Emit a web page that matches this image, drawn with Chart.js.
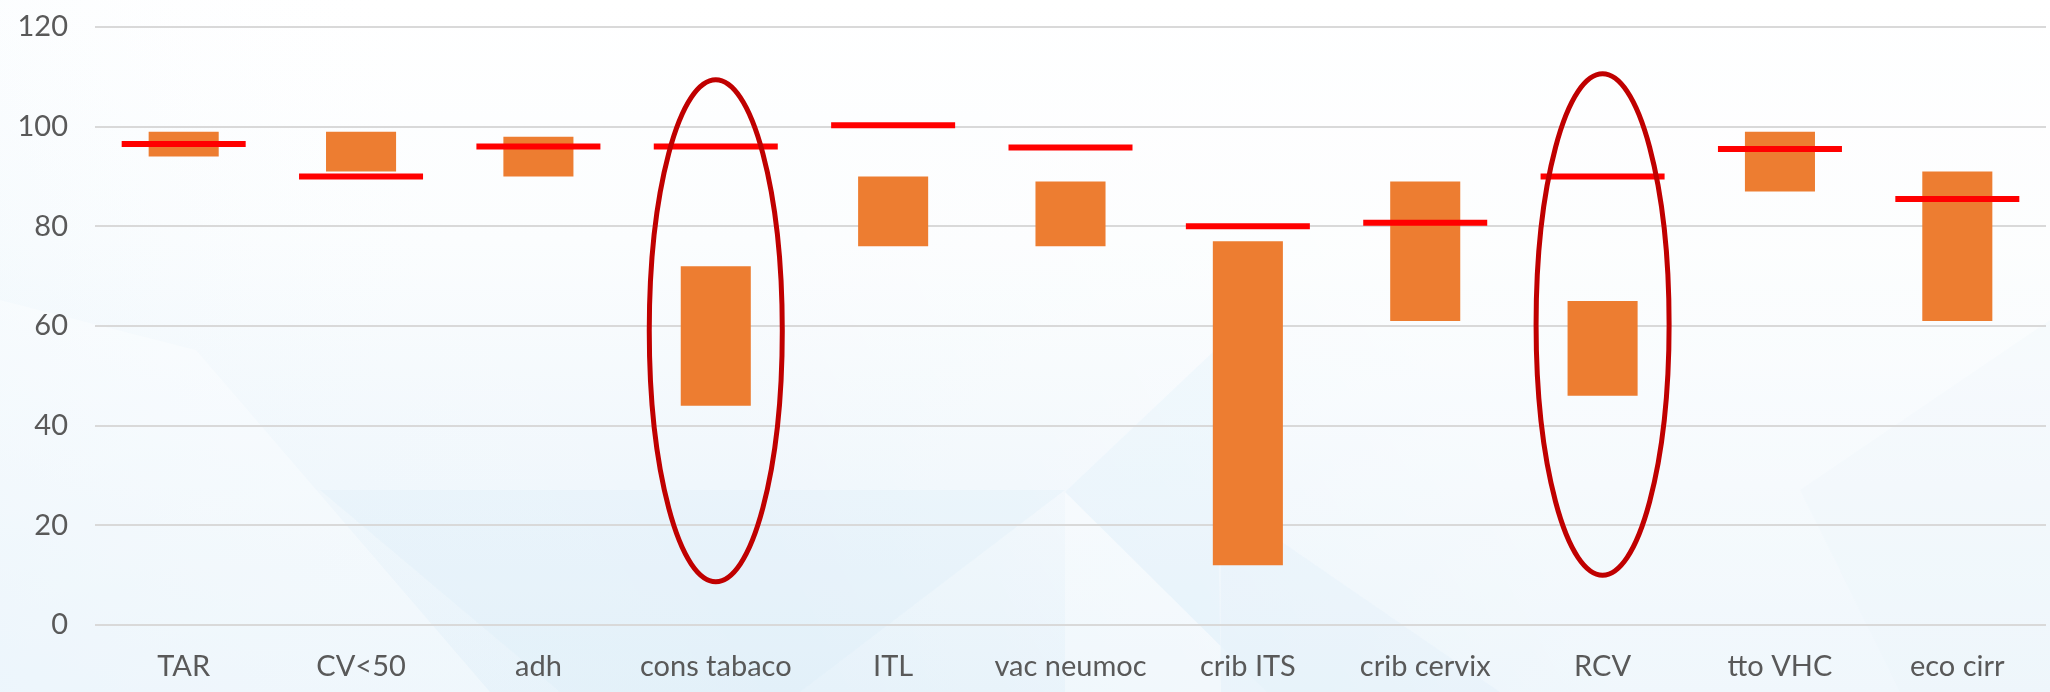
<!DOCTYPE html>
<html>
<head>
<meta charset="utf-8">
<script src="https://cdn.jsdelivr.net/npm/chart.js@4/dist/chart.umd.min.js"></script>
<style>
  html, body { margin: 0; padding: 0; background: #fff; }
  #wrap { width: 2050px; height: 692px; position: relative; }
</style>
</head>
<body>
<div id="wrap"><canvas id="c" width="2050" height="692"></canvas></div>
<script>
// ---- data ----
const categories = ['TAR', 'CV<50', 'adh', 'cons tabaco', 'ITL', 'vac neumoc', 'crib ITS', 'crib cervix', 'RCV', 'tto VHC', 'eco cirr'];
const rangeLow  = [94, 91, 90, 44, 76, 76, 12, 61, 46, 87, 61];
const rangeHigh = [99, 99, 98, 72, 90, 89, 77, 89, 65, 99, 91];
const targets   = [96.5, 90, 96, 96, 100.3, 95.8, 80, 80.7, 90, 95.5, 85.5];
const yTicks    = [0, 20, 40, 60, 80, 100, 120];
// highlighted categories (ellipse spans in value units)
const highlightCats = ['cons tabaco', 'RCV'];
const highlightLow  = [8.7, 10];
const highlightHigh = [109.4, 110.6];

const FONT = 'Lato, "Open Sans", sans-serif';

const bgPlugin = {
  id: 'bg',
  beforeDraw(chart) {
    const ctx = chart.ctx, W = chart.width, H = chart.height;
    ctx.save();
    let g = ctx.createLinearGradient(0, 0, 0, H);
    g.addColorStop(0, '#ffffff');
    g.addColorStop(0.35, '#fbfdfe');
    g.addColorStop(0.7, '#f0f7fc');
    g.addColorStop(1, '#e6f2fa');
    ctx.fillStyle = g;
    ctx.fillRect(0, 0, W, H);
    let g2 = ctx.createLinearGradient(0, H, W * 0.6, 0);
    g2.addColorStop(0, 'rgba(220,238,250,0.35)');
    g2.addColorStop(0.5, 'rgba(255,255,255,0)');
    g2.addColorStop(1, 'rgba(255,255,255,0.4)');
    ctx.fillStyle = g2;
    ctx.fillRect(0, 0, W, H);
    const poly = (pts, col) => {
      ctx.beginPath();
      ctx.moveTo(pts[0][0], pts[0][1]);
      for (let i = 1; i < pts.length; i++) ctx.lineTo(pts[i][0], pts[i][1]);
      ctx.closePath();
      ctx.fillStyle = col;
      ctx.fill();
    };
    poly([[0, 300], [196, 350], [490, 692], [0, 692]], 'rgba(255,255,255,0.35)');
    poly([[320, 490], [1065, 490], [800, 692], [560, 692]], 'rgba(215,236,249,0.25)');
    poly([[1065, 492], [1215, 350], [1221, 692], [1267, 692]], 'rgba(215,236,250,0.22)');
    poly([[1065, 492], [1267, 692], [1065, 692]], 'rgba(255,255,255,0.35)');
    poly([[1221, 500], [1221, 692], [1500, 692]], 'rgba(215,236,250,0.2)');
    poly([[1800, 490], [2050, 320], [2050, 692], [1900, 692]], 'rgba(225,240,251,0.15)');
    ctx.restore();
  }
};

const ellipsePlugin = {
  id: 'ellipses',
  afterDatasetsDraw(chart) {
    const ctx = chart.ctx;
    const xs = chart.scales.x, ys = chart.scales.y;
    const catW = xs.getPixelForValue(1) - xs.getPixelForValue(0);
    ctx.save();
    ctx.strokeStyle = '#C00000';
    ctx.lineWidth = 5;
    highlightCats.forEach((cat, i) => {
      const idx = categories.indexOf(cat);
      const cx = xs.getPixelForValue(idx);
      const yTop = ys.getPixelForValue(highlightHigh[i]);
      const yBot = ys.getPixelForValue(highlightLow[i]);
      ctx.beginPath();
      ctx.ellipse(cx, (yTop + yBot) / 2, catW * 0.375, (yBot - yTop) / 2, 0, 0, Math.PI * 2);
      ctx.stroke();
    });
    ctx.restore();
  }
};

new Chart(document.getElementById('c'), {
  type: 'bar',
  data: {
    labels: categories,
    datasets: [
      {
        type: 'line',
        label: 'objetivo',
        data: targets,
        showLine: false,
        pointStyle: 'line',
        pointRadius: 62,
        pointHoverRadius: 62,
        pointBorderWidth: 6,
        pointHoverBorderWidth: 6,
        borderColor: '#FF0000',
        backgroundColor: '#FF0000',
        order: 0
      },
      {
        type: 'bar',
        label: 'rango',
        data: rangeLow.map((v, i) => [v, rangeHigh[i]]),
        backgroundColor: '#ED7D31',
        borderWidth: 0,
        borderSkipped: false,
        categoryPercentage: 1,
        barPercentage: 0.395,
        grouped: false,
        order: 1
      }
    ]
  },
  options: {
    responsive: false,
    animation: false,
    devicePixelRatio: 1,
    layout: { autoPadding: false, padding: { top: 27, right: 4, left: 0, bottom: 0 } },
    plugins: { legend: { display: false }, tooltip: { enabled: false } },
    scales: {
      x: {
        offset: true,
        grid: { display: false, drawTicks: false },
        border: { display: false },
        ticks: { color: '#595959', font: { family: FONT, size: 29 }, padding: 24, maxRotation: 0, autoSkip: false },
        afterFit(s) { s.height = 67; s.paddingLeft = 0; s.paddingRight = 0; }
      },
      y: {
        min: 0, max: 120,
        afterBuildTicks(s) { s.ticks = yTicks.map(v => ({ value: v })); },
        grid: { color: '#D9D9D9', lineWidth: 2, drawTicks: false },
        border: { display: false },
        ticks: { color: '#595959', font: { family: FONT, size: 29 }, padding: 27 },
        afterFit(s) { s.width = 95; s.paddingTop = 0; s.paddingBottom = 0; }
      }
    }
  },
  plugins: [bgPlugin, ellipsePlugin]
});
</script>
</body>
</html>
